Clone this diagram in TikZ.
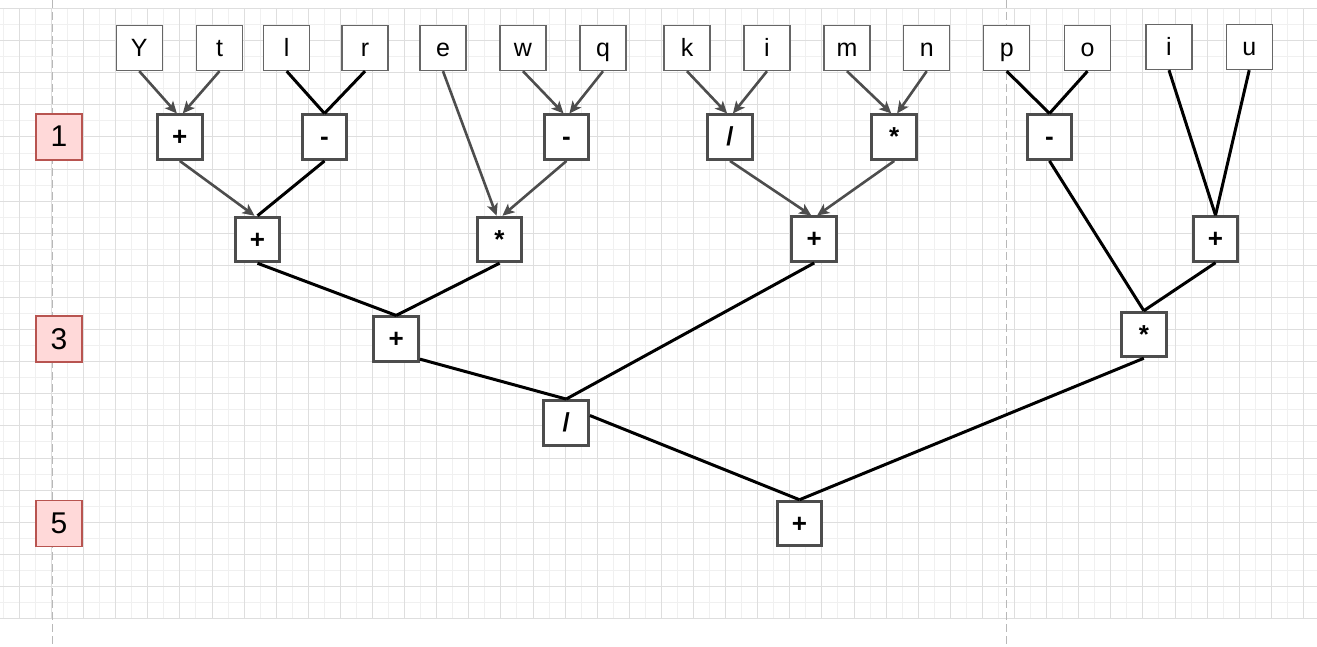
\documentclass[tikz,border=0pt]{standalone}
\usepackage{fontspec}
\setmainfont{Liberation Sans}
\usetikzlibrary{arrows.meta}
\definecolor{opgray}{HTML}{4D4D4D}
\definecolor{leafgray}{HTML}{666666}
\definecolor{rowfill}{HTML}{FFD9D9}
\definecolor{rowdraw}{HTML}{B85450}
\definecolor{gridlight}{HTML}{F0F0F0}
\definecolor{griddark}{HTML}{DEDEDE}
\definecolor{breakgray}{HTML}{B8B8B8}
\tikzset{
  leaf/.style={draw=leafgray, line width=1.4pt, fill=white, minimum width=46pt, minimum height=45pt,
    inner sep=0pt, text height=20pt, text depth=2pt, font=\fontsize{25}{25}\selectfont},
  op/.style={draw=opgray, line width=3pt, fill=white, minimum size=44.5pt, inner sep=0pt,
    text height=20pt, text depth=2.8pt, font=\bfseries\fontsize{26}{26}\selectfont},
  rowlabel/.style={draw=rowdraw, line width=1.2pt, fill=rowfill, minimum size=46pt, inner sep=0pt,
    text height=22pt, text depth=2pt, font=\fontsize{30}{30}\selectfont},
  arr/.style={draw=opgray, line width=2.6pt, -{Stealth[length=12pt,width=11pt,inset=3pt]}},
  wire/.style={draw=black, line width=3pt},
  pagebreak/.style={draw=breakgray, line width=0.9pt, dash pattern=on 8pt off 4pt},
}
\begin{document}
\begin{tikzpicture}[x=1pt,y=-1pt]
\useasboundingbox[fill=white] (0,0) rectangle (1317,647);
\foreach \k in {0,...,40} \draw[gridlight, line width=0.8pt] ({3.25+32.1*\k},8.5) -- ++(0,609.9);
\foreach \k in {0,...,18} \draw[gridlight, line width=0.8pt] (0,{24.55+32.1*\k}) -- ++(1317,0);
\foreach \k in {0,...,40} \draw[griddark, line width=0.8pt] ({19.3+32.1*\k},8.5) -- ++(0,609.9);
\foreach \k in {0,...,19} \draw[griddark, line width=0.8pt] (0,{8.5+32.1*\k}) -- ++(1317,0);
\draw[pagebreak] (52,0) -- (52,647);
\draw[pagebreak] (1006,0) -- (1006,647);

\node[rowlabel] (row1) at (59,137) {1};
\node[rowlabel] (row3) at (59,339) {3};
\node[rowlabel] (row5) at (59,523.5) {5};

\node[leaf] (lY) at (139.3,48) {Y};
\node[leaf] (lt) at (219.5,48) {t};
\node[leaf] (ll) at (286.7,48) {l};
\node[leaf] (lr) at (365,48) {r};
\node[leaf] (le) at (443,48) {e};
\node[leaf] (lw) at (523,48) {w};
\node[leaf] (lq) at (603,48) {q};
\node[leaf] (lk) at (687,48) {k};
\node[leaf] (li) at (767,48) {i};
\node[leaf] (lm) at (847,48) {m};
\node[leaf] (ln) at (926.7,48) {n};
\node[leaf] (lp) at (1006.7,48) {p};
\node[leaf] (lo) at (1087.5,48) {o};
\node[leaf] (lii) at (1169,47) {i};
\node[leaf] (lu) at (1249.2,47) {u};

\node[op] (plusA) at (179.8,137.2) {+};
\node[op] (minusA) at (324.5,137.2) {-};
\node[op] (minusB) at (566.5,137.2) {-};
\node[op] (divA) at (730,137.2) {/};
\node[op] (mulA) at (894.2,137.2) {*};
\node[op] (minusC) at (1049.5,137.2) {-};

\node[op] (plusB) at (257.5,239.5) {+};
\node[op] (mulB) at (499.5,239.5) {*};
\node[op] (plusC) at (814.2,239.2) {+};
\node[op] (plusD) at (1215.5,239) {+};

\node[op] (plusE) at (396.2,339.2) {+};
\node[op] (mulC) at (1143.8,334.5) {*};
\node[op] (divB) at (566.2,422.8) {/};
\node[op] (plusF) at (799.5,523.5) {+};

\draw[arr] (lY.south) -- (plusA.97);
\draw[arr] (lt.south) -- (plusA.83);
\draw[wire] (ll.south) -- (minusA.north);
\draw[wire] (lr.south) -- (minusA.north);
\draw[arr] (lw.south) -- (minusB.97);
\draw[arr] (lq.south) -- (minusB.83);
\draw[arr] (lk.south) -- (divA.97);
\draw[arr] (li.south) -- (divA.83);
\draw[arr] (lm.south) -- (mulA.97);
\draw[arr] (ln.south) -- (mulA.83);
\draw[wire] (lp.south) -- (minusC.north);
\draw[wire] (lo.south) -- (minusC.north);
\draw[wire] (lii.south) -- (plusD.north);
\draw[wire] (lu.south) -- (plusD.north);

\draw[arr] (plusA.south) -- (plusB.97);
\draw[wire] (minusA.south) -- (plusB.north);
\draw[arr] (le.south) -- (mulB.97);
\draw[arr] (minusB.south) -- (mulB.83);
\draw[arr] (divA.south) -- (plusC.97);
\draw[arr] (mulA.south) -- (plusC.83);

\draw[wire] (plusB.south) -- (plusE.north);
\draw[wire] (mulB.south) -- (plusE.north);
\draw[wire] (minusC.south) -- (mulC.north);
\draw[wire] (plusD.south) -- (mulC.north);
\draw[wire] (plusE.-40) -- (divB.north);
\draw[wire] (plusC.south) -- (divB.north);
\draw[wire] (divB.17) -- (plusF.north);
\draw[wire] (mulC.south) -- (plusF.north);
\end{tikzpicture}
\end{document}
